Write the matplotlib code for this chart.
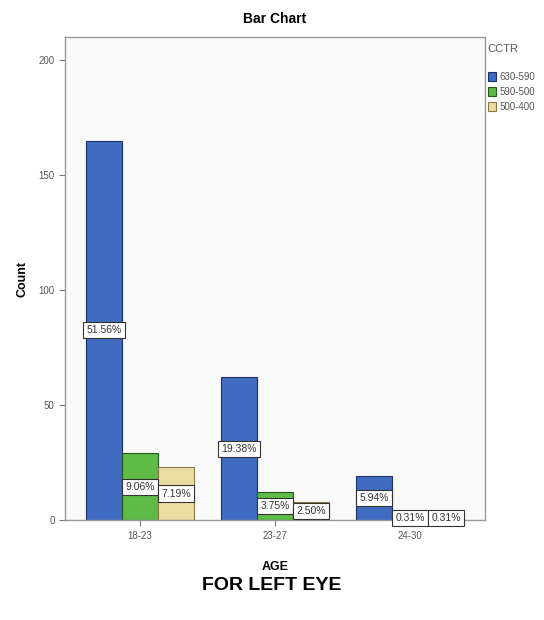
import numpy as np
import matplotlib
matplotlib.use('Agg')
import matplotlib.pyplot as plt

ages = ["18-23", "23-27", "24-30"]
cctr = ["630-590", "590-500", "500-400"]
counts_630 = [165, 62, 19]
counts_590 = [29, 12, 1]
counts_500 = [23, 8, 1]
pct_630 = ["51.56%", "19.38%", "5.94%"]
pct_590 = ["9.06%", "3.75%", "0.31%"]
pct_500 = ["7.19%", "2.50%", "0.31%"]

fills = ["#3F6BC0", "#5DBB46", "#EADDA2"]
edges = ["#1F2F6A", "#245A1E", "#8A7A48"]

plt.rcParams['font.family'] = 'Liberation Sans'
fig = plt.figure(figsize=(5.44, 6.2), dpi=100)
ax = fig.add_axes([0.1195, 0.1613, 0.772, 0.779])
ax.set_facecolor("#F9F9F9")

x = np.arange(len(ages))
w = 0.267
series = [counts_630, counts_590, counts_500]
labels = [pct_630, pct_590, pct_500]
for i, (vals, labs) in enumerate(zip(series, labels)):
    pos = x + (i - 1) * w
    ax.bar(pos, vals, width=w, color=fills[i], edgecolor=edges[i],
           linewidth=0.8, label=cctr[i], zorder=2)
    for xp, v, lab in zip(pos, vals, labs):
        yl = max(v / 2, 1.0)
        ax.text(xp, yl, lab, ha='center', va='center', fontsize=7.5,
                color='#333333', zorder=3, clip_on=False,
                bbox=dict(boxstyle='square,pad=0.3', fc='white', ec='#333333', lw=0.8))

ax.set_xlim(-0.556, 2.556)
ax.set_ylim(0, 210)
ax.set_yticks([0, 50, 100, 150, 200])
ax.set_xticks(x)
ax.set_xticklabels(ages)
ax.tick_params(axis='both', labelsize=7, labelcolor='#555555', color='#777777', length=4)
ax.tick_params(axis='x', pad=4)
for s in ax.spines.values():
    s.set_color('#999999')
    s.set_linewidth(1.0)

ax.set_title("Bar Chart", fontsize=10, fontweight='bold', pad=10)
ax.set_ylabel("Count", fontsize=9, fontweight='bold', labelpad=7)
ax.set_xlabel("AGE", fontsize=9, fontweight='bold', labelpad=14)

leg = ax.legend(title="CCTR", loc='upper left', bbox_to_anchor=(0.99, 1.0),
                frameon=False, fontsize=7, title_fontsize=8,
                handlelength=0.9, handleheight=1.1, handletextpad=0.3,
                labelspacing=0.5, borderaxespad=0.3)
leg._legend_box.align = "left"
leg._legend_box.sep = 13
for t in leg.get_texts():
    t.set_color('#555555')
leg.get_title().set_color('#555555')

fig.text(0.5, 0.055, "FOR LEFT EYE", ha='center', va='center',
         fontsize=14, fontweight='bold')

fig.savefig("out.png", dpi=100)
